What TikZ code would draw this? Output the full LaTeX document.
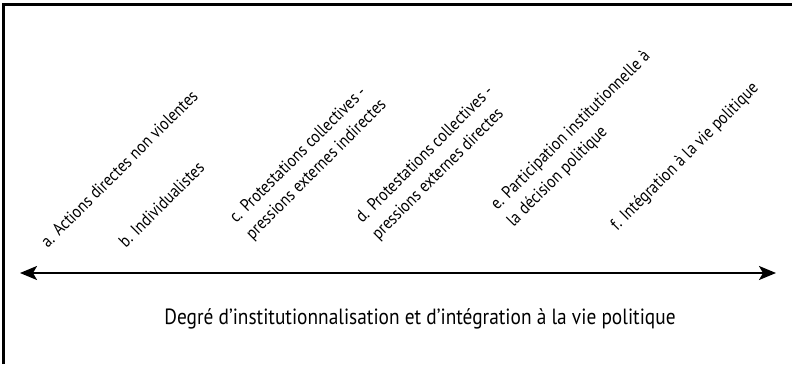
\documentclass[tikz,border=0pt]{standalone}
\usepackage{fontspec}
\setmainfont{PT Sans}[FakeStretch=0.88]
\usetikzlibrary{arrows.meta,positioning}

\begin{document}
\begin{tikzpicture}[x=1pt,y=-1pt,
      lab/.style = {rotate=45, anchor=south west, align=left, inner sep=0pt,
                    font=\fontsize{17.5}{23}\selectfont},
      axe/.style = {line width=2pt, <->, >={Stealth[length=17pt,width=14pt,inset=4pt]}},
      cadre/.style = {line width=2.4pt}
      ]
      \useasboundingbox (0,0) rectangle (794,364);
      % cadre ouvert (haut et gauche)
      \coordinate (cb) at (3.5,364);
      \coordinate (hg) at (3.5,4.5);
      \coordinate (hd) at (792,4.5);
      \draw[cadre] (cb) -- (hg) -- (hd);

      % les formes d'action
      \node[lab] (a) at (48,249) {a. Actions directes non violentes};
      \node[lab] (b) at (126,249) {b. Individualistes};
      \node[lab] (c) at (255,243) {c. Protestations collectives -\\pressions externes indirectes};
      \node[lab] (d) at (381,243) {d. Protestations collectives -\\pressions externes directes};
      \node[lab] (e) at (516,230) {e. Participation institutionnelle à\\la décision politique};
      \node[lab] (f) at (620,234) {f. Intégration à la vie politique};

      % axe
      \coordinate (g) at (20,273);
      \coordinate (dr) at (776,273);
      \draw[axe] (g) -- (dr);
      \node[anchor=base, font=\fontsize{22}{26}\selectfont] (titre) at (420,324.5)
        {Degré d’institutionnalisation et d’intégration à la vie politique};
\end{tikzpicture}
\end{document}
